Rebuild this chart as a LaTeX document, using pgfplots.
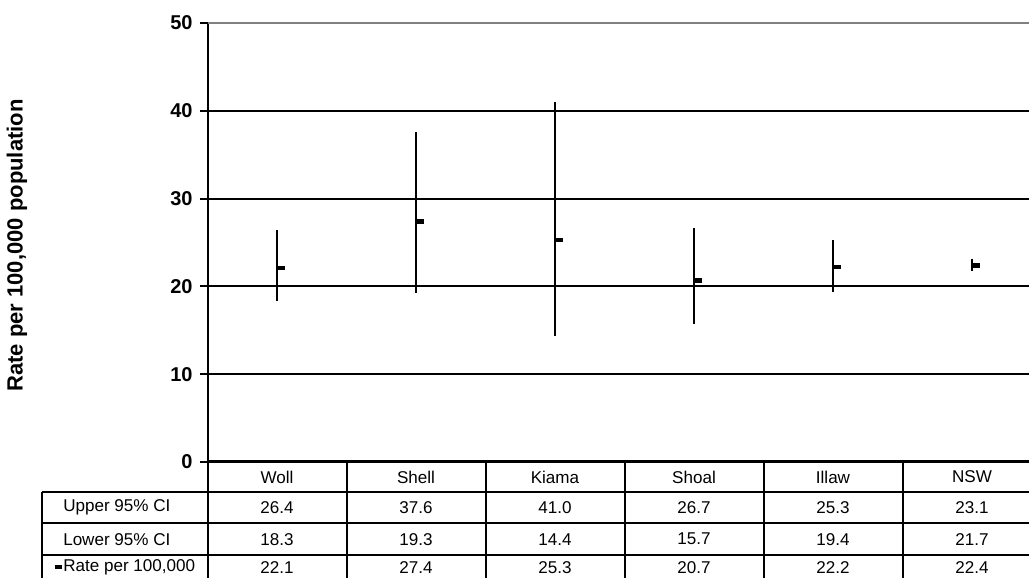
\documentclass[border=0pt]{standalone}
\usepackage{pgfplots}
\pgfplotsset{compat=1.18}
\usepackage{pgfplotstable}
\usepackage{fontspec}
\setmainfont{Liberation Sans}

% closing value: short bar to the right of the high-low line
\pgfdeclareplotmark{closetick}{%
  \pgfpathrectangle{\pgfpoint{0pt}{-1.75pt}}{\pgfpoint{6pt}{3.5pt}}%
  \pgfusepathqfill}
% invisible mark, used for the plots that only carry table text
\pgfdeclareplotmark{blank}{}

\pgfplotstableread{
x    name  upper lower rate
0.5  Woll  26.4  18.3  22.1
1.5  Shell 37.6  19.3  27.4
2.5  Kiama 41.0  14.4  25.3
3.5  Shoal 26.7  15.7  20.7
4.5  Illaw 25.3  19.4  22.2
5.5  NSW   23.1  21.7  22.4
}\ratetable

\newcommand\tablefont{\fontsize{12.8}{14}\selectfont}
\newcommand\tickfont{\fontsize{15}{17}\selectfont\bfseries}
\newcommand\ylabfont{\fontsize{16.5}{19}\selectfont\bfseries}

\pgfplotsset{
  tablerow/.style={draw=none, mark=blank,
    nodes near coords={\pgfmathprintnumber[fixed, fixed zerofill, precision=1]{\pgfplotspointmeta}},
    point meta=explicit,
    every node near coord/.append style={anchor=center, font=\tablefont, inner sep=0pt, text=black}},
}

\begin{document}
\begin{tikzpicture}[x=0.75pt, y=0.75pt]

\begin{axis}[
  at={(155.625pt,87pt)}, anchor=south west,
  scale only axis, width=616.125pt, height=329.25pt,
  xmin=0, xmax=5.9101, ymin=0, ymax=50,
  clip=false,
  axis x line*=bottom, axis y line*=left,
  x axis line style={-, line width=2.25pt},
  y axis line style={-, line width=1.5pt},
  xtick=\empty,
  ytick={0,10,20,30,40},
  extra y ticks={50},
  extra y tick style={major grid style={draw=gray, line width=1.5pt}},
  ymajorgrids,
  major grid style={black, line width=1.5pt},
  tick align=outside, ytick pos=left,
  major tick length=6pt,
  major tick style={black, line width=1.5pt},
  yticklabel style={font=\tickfont, anchor=east, inner sep=0pt, xshift=-5pt},
  /pgf/number format/assume math mode=true,
]
% high-low lines with the rate as closing tick
\addplot[only marks, mark=closetick, mark options={fill=black, draw=none},
  error bars/.cd, y dir=both, y explicit, error mark=none,
  error bar style={black, line width=1.6pt}]
  table[x=x, y=rate,
        y error plus expr=\thisrow{upper}-\thisrow{rate},
        y error minus expr=\thisrow{rate}-\thisrow{lower}] {\ratetable};

% data table: category names and values
\addplot[tablerow, nodes near coords, point meta=explicit symbolic]
  table[x=x, y expr=-1.708, meta=name] {\ratetable};
\addplot[tablerow] table[x=x, y expr=-5.182, meta=upper] {\ratetable};
\addplot[tablerow] table[x=x, y expr=-8.793, meta=lower] {\ratetable};
\addplot[tablerow] table[x=x, y expr=-12.0, meta=rate] {\ratetable};
\end{axis}

\pgfresetboundingbox
\path[use as bounding box] (0,0) rectangle (1029,578);

% table grid
\begin{scope}[line width=1.5pt]
  \foreach \yy in {86.3, 54.7, 23, -8.6}
    \draw (42,\yy) -- (1045,\yy);
  \draw (42,86.3) -- (42,-12);
  \foreach \xx in {207.5, 346.5, 485.5, 624.5, 763.5, 902.5}
    \draw (\xx,116) -- (\xx,-12);
\end{scope}

% row labels
\node[anchor=west, font=\tablefont, inner sep=0pt] at (63,70.5) {Upper 95\% CI};
\node[anchor=west, font=\tablefont, inner sep=0pt] at (63,38.8) {Lower 95\% CI};
\node[anchor=west, font=\tablefont, inner sep=0pt] at (63,10.6) {Rate per 100,000};
\fill (55,8.6) rectangle (62,12.6);

% y axis title
\node[rotate=90, font=\ylabfont] at (17,332.5) {Rate per 100,000 population};
\end{tikzpicture}
\end{document}
